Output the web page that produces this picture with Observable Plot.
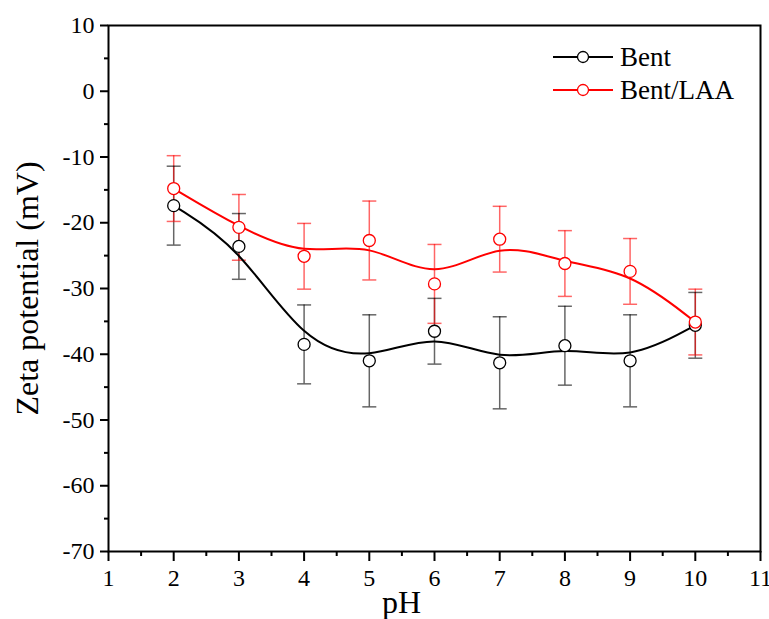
<!DOCTYPE html>
<html>
<head>
<meta charset="utf-8">
<script src="https://cdn.jsdelivr.net/npm/d3@7"></script>
<script src="https://cdn.jsdelivr.net/npm/@observablehq/plot@0.6"></script>
<style>
  body { margin: 0; background: #fff; }
  #wrap { position: relative; width: 769px; height: 619px; font-family: "Liberation Serif", "Times New Roman", serif; }
  #wrap svg text { font-family: "Liberation Serif", "Times New Roman", serif; }
  #legend { position: absolute; left: 0; top: 0; }
</style>
</head>
<body>
<div id="wrap"></div>
<script>
const pH = [2, 3, 4, 5, 6, 7, 8, 9, 10];
const bent = [-17.4, -23.6, -38.5, -41.0, -36.5, -41.3, -38.7, -41.0, -35.6];
const bentErr = [6, 5, 6, 7, 5, 7, 6, 7, 5];
const laa = [-14.8, -20.7, -25.1, -22.7, -29.3, -22.5, -26.2, -27.4, -35.1];
const laaErr = [5, 5, 5, 6, 6, 5, 5, 5, 5];
const seriesNames = ["Bent", "Bent/LAA"];
const seriesColors = ["#000000", "#ff0000"];
const xTicks = [1, 2, 3, 4, 5, 6, 7, 8, 9, 10, 11];
const xMinor = [1.5, 2.5, 3.5, 4.5, 5.5, 6.5, 7.5, 8.5, 9.5, 10.5];
const yTicks = [10, 0, -10, -20, -30, -40, -50, -60, -70];
const yMinor = [5, -5, -15, -25, -35, -45, -55, -65];

const rows = [];
[bent, laa].forEach((vals, s) => {
  const errs = s === 0 ? bentErr : laaErr;
  vals.forEach((v, i) => rows.push({series: seriesNames[s], x: pH[i], y: v, lo: v - errs[i], hi: v + errs[i]}));
});

const capSymbol = {
  draw(ctx, size) {
    const w = 7;
    ctx.moveTo(-w, 0);
    ctx.lineTo(w, 0);
  }
};

const color = d => seriesColors[seriesNames.indexOf(d.series)];
const serif = "Liberation Serif";

const chart = Plot.plot({
  width: 769,
  height: 619,
  marginLeft: 108,
  marginRight: 9,
  marginTop: 25,
  marginBottom: 68,
  style: {fontFamily: "'Liberation Serif', 'Times New Roman', serif", background: "#fff", color: "#000"},
  x: {domain: [1, 11]},
  y: {domain: [-70, 10]},
  marks: [
    Plot.axisX({ticks: xTicks, tickSize: 10, tickPadding: 7, strokeWidth: 2, fontSize: 24, fontFamily: serif, tickFormat: d => String(d), label: null}),
    Plot.axisX({ticks: xMinor, tickSize: 5, strokeWidth: 2, tickFormat: null, text: null, label: null}),
    Plot.axisY({ticks: yTicks, tickSize: 8, tickPadding: 6, strokeWidth: 2, fontSize: 24, fontFamily: serif, tickFormat: d => String(d), label: null}),
    Plot.axisY({ticks: yMinor, tickSize: 4, strokeWidth: 2, text: null, label: null}),
    Plot.text(["pH"], {frameAnchor: "bottom", dx: -33, dy: 61, fontSize: 32, fontFamily: serif, textAnchor: "middle"}),
    Plot.text(["Zeta potential (mV)"], {frameAnchor: "left", dx: -81, rotate: -90, fontSize: 32, fontFamily: serif, textAnchor: "middle"}),
    Plot.ruleX(rows, {x: "x", y1: "lo", y2: "hi", stroke: color, strokeOpacity: 0.6, strokeWidth: 1.5}),
    Plot.dot(rows, {x: "x", y: "lo", symbol: capSymbol, stroke: color, strokeOpacity: 0.6, strokeWidth: 1.5, fill: "none"}),
    Plot.dot(rows, {x: "x", y: "hi", symbol: capSymbol, stroke: color, strokeOpacity: 0.6, strokeWidth: 1.5, fill: "none"}),
    Plot.line(rows, {x: "x", y: "y", z: "series", stroke: color, strokeWidth: 2, curve: "basis"}),
    Plot.dot(rows, {x: "x", y: "y", r: 6, stroke: color, fill: "#fff", strokeWidth: 1.3}),
    Plot.frame({stroke: "#000", strokeWidth: 2})
  ]
});

const wrap = document.getElementById("wrap");
wrap.appendChild(chart);

// Legend overlay
const ns = "http://www.w3.org/2000/svg";
const lg = document.createElementNS(ns, "svg");
lg.setAttribute("id", "legend");
lg.setAttribute("width", 769);
lg.setAttribute("height", 619);
lg.style.pointerEvents = "none";
seriesNames.forEach((name, i) => {
  const yy = 57 + i * 33;
  const line = document.createElementNS(ns, "line");
  line.setAttribute("x1", 553); line.setAttribute("x2", 613);
  line.setAttribute("y1", yy); line.setAttribute("y2", yy);
  line.setAttribute("stroke", seriesColors[i]); line.setAttribute("stroke-width", 2);
  lg.appendChild(line);
  const c = document.createElementNS(ns, "circle");
  c.setAttribute("cx", 583); c.setAttribute("cy", yy); c.setAttribute("r", 5.5);
  c.setAttribute("fill", "#fff"); c.setAttribute("stroke", seriesColors[i]); c.setAttribute("stroke-width", 1.3);
  lg.appendChild(c);
  const t = document.createElementNS(ns, "text");
  t.setAttribute("x", 620); t.setAttribute("y", yy);
  t.setAttribute("dy", "0.35em");
  t.setAttribute("font-size", 27);
  t.setAttribute("font-family", "Liberation Serif, Times New Roman, serif");
  t.textContent = name;
  lg.appendChild(t);
});
wrap.appendChild(lg);
</script>
</body>
</html>
